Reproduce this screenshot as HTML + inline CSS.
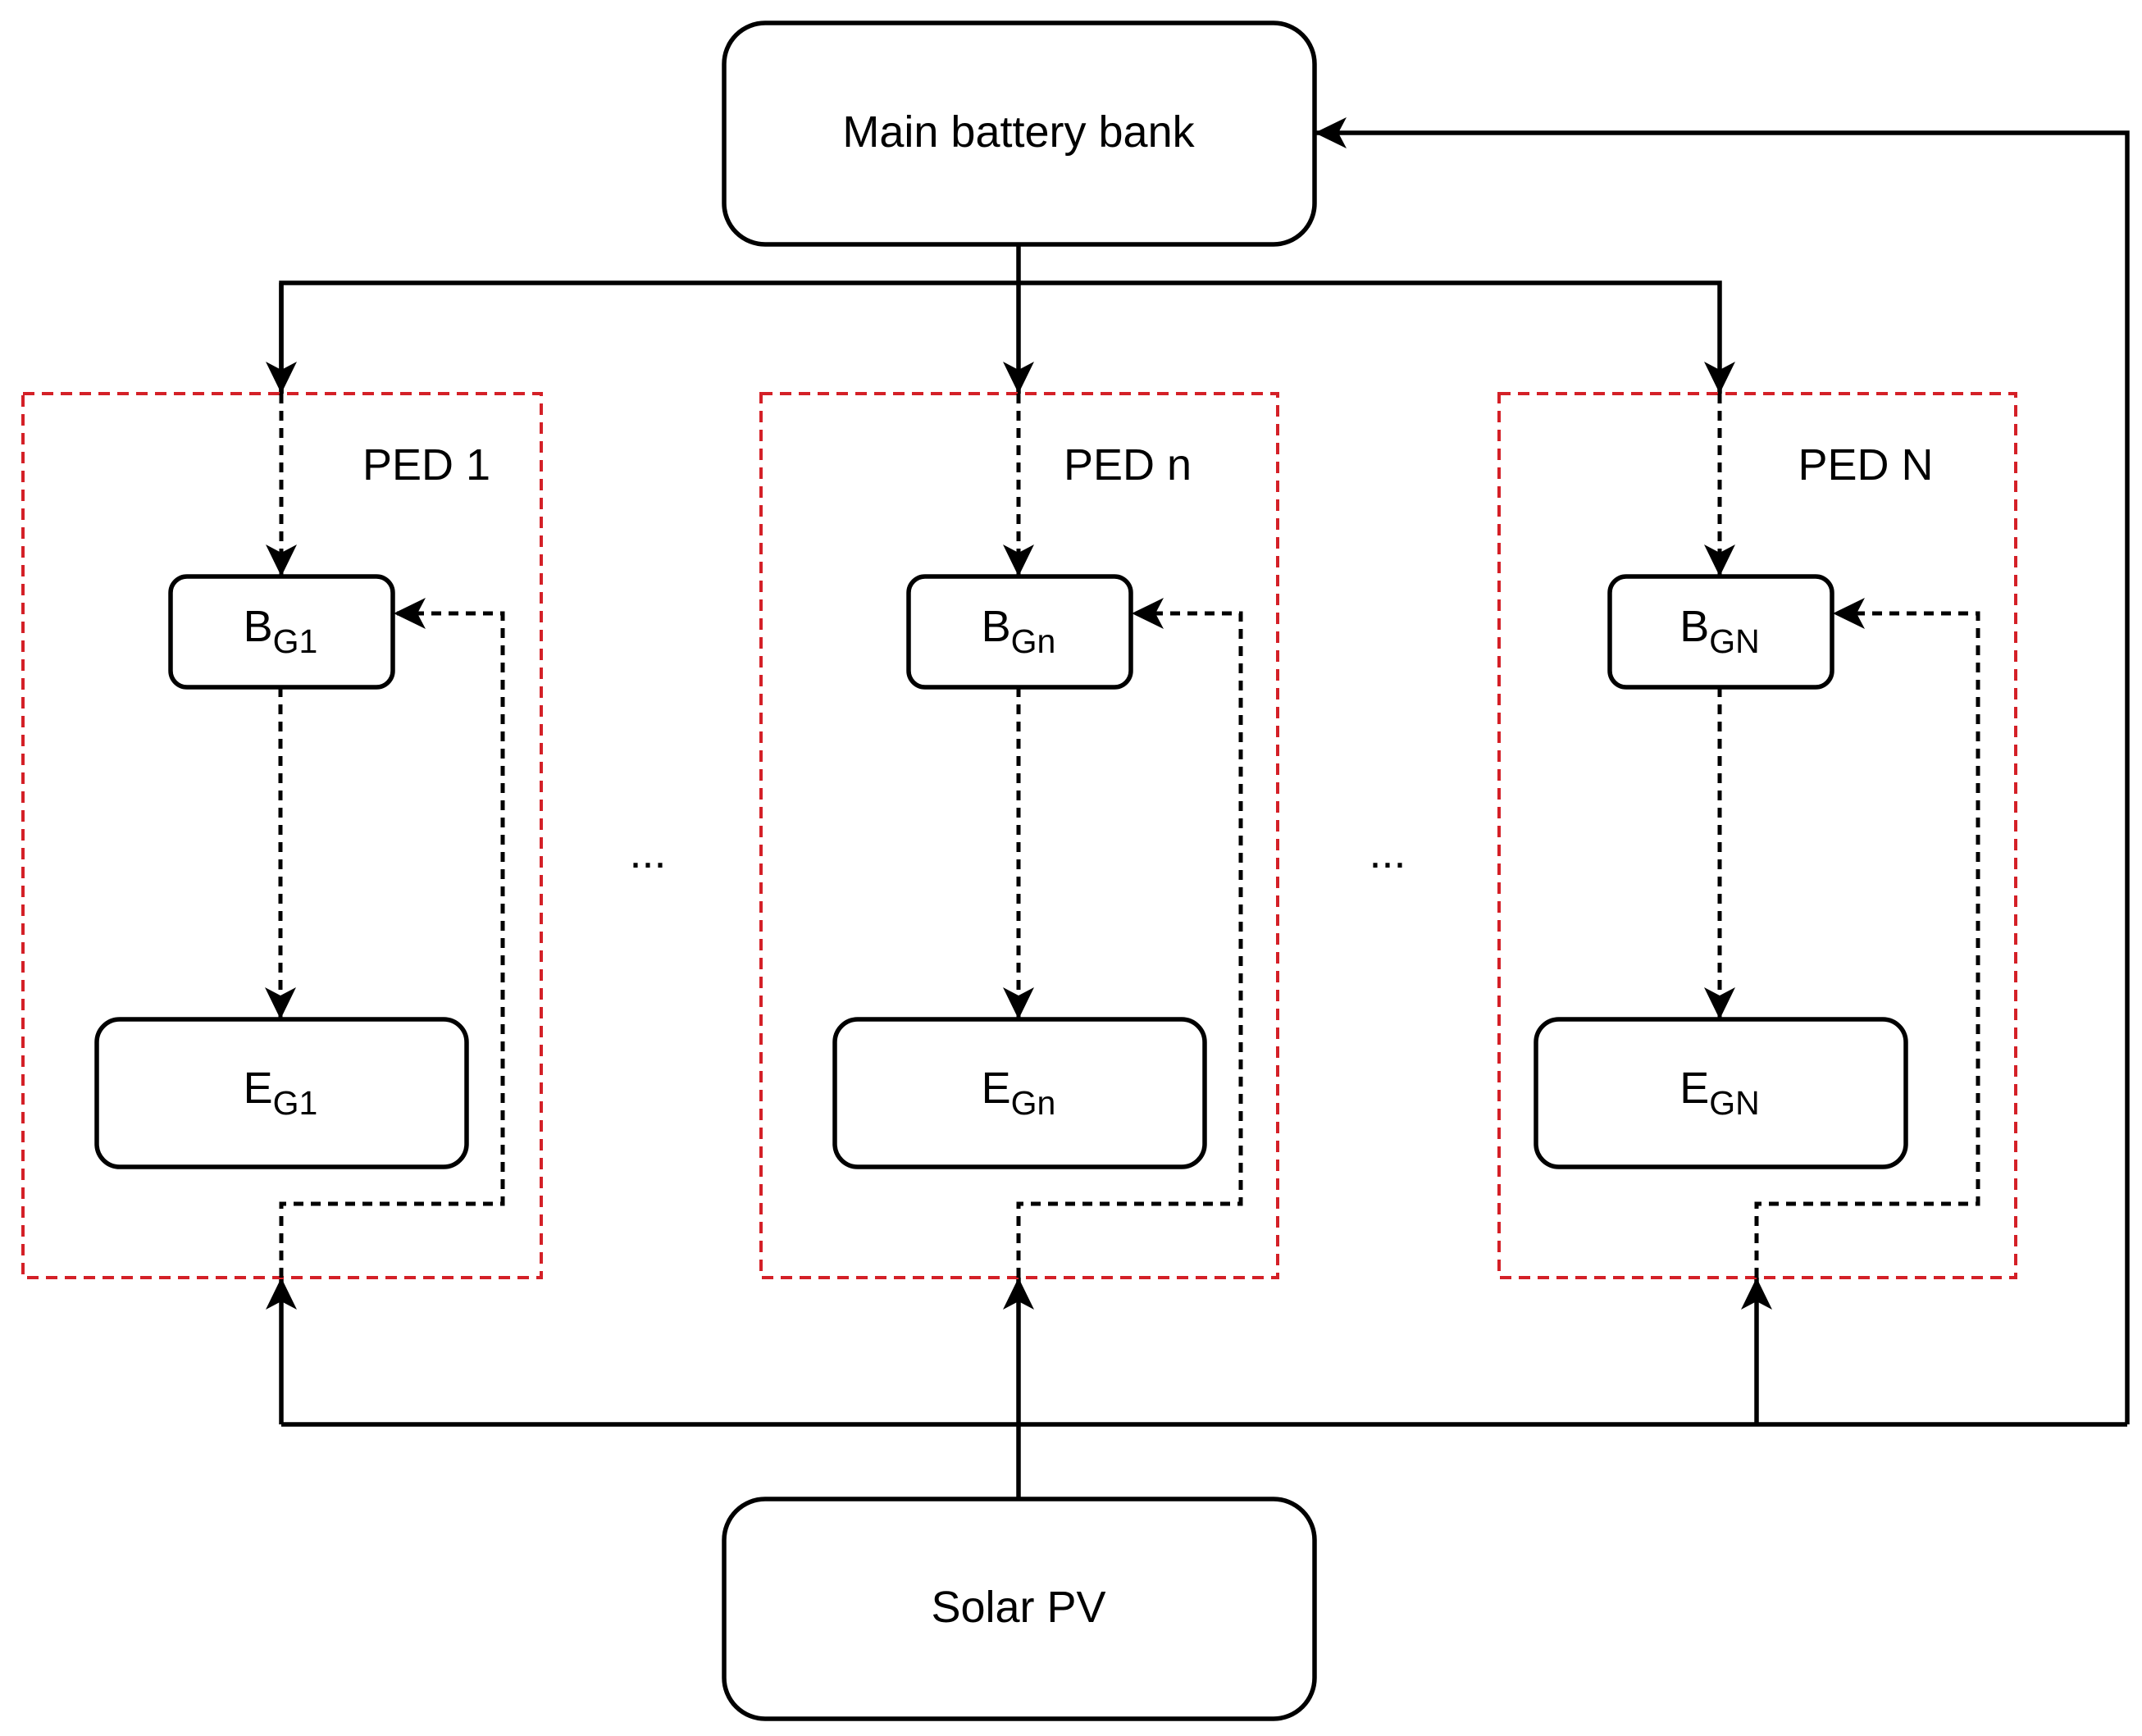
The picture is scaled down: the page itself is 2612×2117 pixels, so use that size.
<!DOCTYPE html>
<html><head><meta charset="utf-8"><style>
html,body{margin:0;padding:0;background:#fff;}
svg{display:block;}
text{font-family:"Liberation Sans",Arial,sans-serif;fill:#000;}
</style></head><body>
<svg width="2612" height="2117" viewBox="0 0 2612 2117" xmlns="http://www.w3.org/2000/svg">
<defs>
<marker id="a" markerUnits="userSpaceOnUse" markerWidth="40" markerHeight="40" viewBox="0 0 40 40" refX="39" refY="20" orient="auto">
<path d="M0,1 L39,20 L0,39 L10,20 Z" fill="#000"/>
</marker>
</defs>
<g fill="none" stroke="#000" stroke-width="5.5">
<rect x="883" y="28" width="720" height="270" rx="50"/>
<rect x="883" y="1828" width="720" height="268" rx="50"/>
<line x1="1242" y1="298" x2="1242" y2="345"/>
<polyline points="343,480 343,345 2097,345 2097,480" marker-end="url(#a)"/>
<line x1="343" y1="345" x2="343" y2="480" marker-end="url(#a)"/>
<line x1="1242" y1="345" x2="1242" y2="480" marker-end="url(#a)"/>
<line x1="1242" y1="1828" x2="1242" y2="1737"/>
<line x1="343" y1="1737" x2="2594" y2="1737"/>
<line x1="343" y1="1737" x2="343" y2="1558" marker-end="url(#a)"/>
<line x1="1242" y1="1737" x2="1242" y2="1558" marker-end="url(#a)"/>
<line x1="2142" y1="1737" x2="2142" y2="1558" marker-end="url(#a)"/>
<polyline points="2594,1737 2594,162 1603,162" marker-end="url(#a)"/>
</g>
<g fill="none" stroke="#d42027" stroke-width="4" stroke-dasharray="14,9">
<rect x="28" y="480" width="632" height="1078"/>
<rect x="928" y="480" width="630" height="1078"/>
<rect x="1828" y="480" width="630" height="1078"/>
</g>
<g fill="#fff" stroke="#000" stroke-width="5.5">
<rect x="208" y="703" width="271" height="135" rx="20"/>
<rect x="1108" y="703" width="271" height="135" rx="20"/>
<rect x="1963" y="703" width="271" height="135" rx="20"/>
<rect x="118" y="1243" width="451" height="180" rx="28"/>
<rect x="1018" y="1243" width="451" height="180" rx="28"/>
<rect x="1873" y="1243" width="451" height="180" rx="28"/>
</g>
<g fill="none" stroke="#000" stroke-width="5" stroke-dasharray="12,9">
<line x1="343" y1="480" x2="343" y2="703" marker-end="url(#a)"/>
<line x1="1242" y1="480" x2="1242" y2="703" marker-end="url(#a)"/>
<line x1="2097" y1="480" x2="2097" y2="703" marker-end="url(#a)"/>
<line x1="342" y1="838" x2="342" y2="1243" marker-end="url(#a)"/>
<line x1="1242" y1="838" x2="1242" y2="1243" marker-end="url(#a)"/>
<line x1="2097" y1="838" x2="2097" y2="1243" marker-end="url(#a)"/>
<polyline points="343,1558 343,1468 613,1468 613,748 480,748" marker-end="url(#a)"/>
<polyline points="1242,1558 1242,1468 1513,1468 1513,748 1380,748" marker-end="url(#a)"/>
<polyline points="2142,1558 2142,1468 2412,1468 2412,748 2235,748" marker-end="url(#a)"/>
</g>
<g font-size="54" text-anchor="middle">
<text x="1242" y="179">Main battery bank</text>
<text x="1242" y="1978">Solar PV</text>
<text x="520" y="585">PED 1</text>
<text x="1375" y="585">PED n</text>
<text x="2275" y="585">PED N</text>
<text x="790" y="1058">...</text>
<text x="1692" y="1058">...</text>
</g>
<g font-size="54" text-anchor="middle">
<text x="342" y="782">B<tspan font-size="41" dy="14">G1</tspan></text>
<text x="1242" y="782">B<tspan font-size="41" dy="14">Gn</tspan></text>
<text x="2097" y="782">B<tspan font-size="41" dy="14">GN</tspan></text>
<text x="342" y="1345">E<tspan font-size="41" dy="14">G1</tspan></text>
<text x="1242" y="1345">E<tspan font-size="41" dy="14">Gn</tspan></text>
<text x="2097" y="1345">E<tspan font-size="41" dy="14">GN</tspan></text>
</g>
</svg>
</body></html>
